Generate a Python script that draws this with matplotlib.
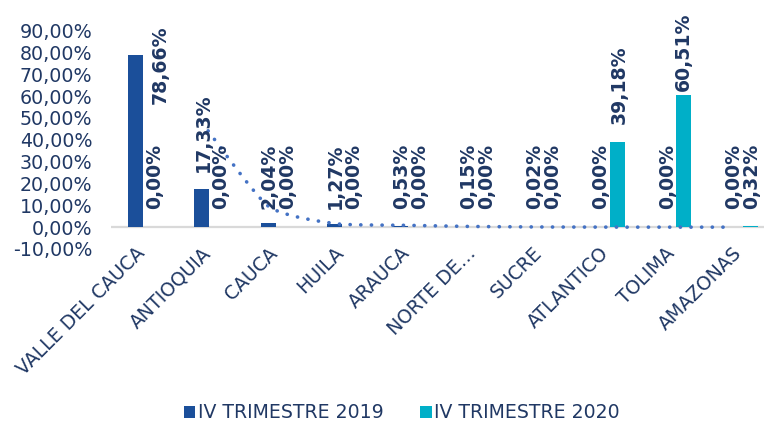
import numpy as np
import pandas as pd
import matplotlib
matplotlib.use("Agg")
import matplotlib.pyplot as plt
import matplotlib.transforms as mtransforms

# data
departamentos = ["VALLE DEL CAUCA", "ANTIOQUIA", "CAUCA", "HUILA", "ARAUCA",
                 "NORTE DE…", "SUCRE", "ATLANTICO", "TOLIMA", "AMAZONAS"]
trim_2019 = [78.66, 17.33, 2.04, 1.27, 0.53, 0.15, 0.02, 0.00, 0.00, 0.00]
trim_2020 = [0.00, 0.00, 0.00, 0.00, 0.00, 0.00, 0.00, 39.18, 60.51, 0.32]
y_ticks = [-10, 0, 10, 20, 30, 40, 50, 60, 70, 80, 90]

# styles
c19 = "#1B4F9A"
c20 = "#00AFC8"
c_text = "#203864"
c_trend = "#4472C4"

plt.rcParams['font.family'] = ['DejaVu Sans']

fig = plt.figure(figsize=(7.64, 4.24), dpi=100)
ax = fig.add_axes([111.3 / 764, (424 - 249) / 424, 663 / 764, (249 - 30.5) / 424])

x = np.arange(len(departamentos))
w = 0.226
off = 0.136
ax.bar(x - off, trim_2019, width=w, color=c19, zorder=2, label="IV TRIMESTRE 2019")
ax.bar(x + off, trim_2020, width=w, color=c20, zorder=2, label="IV TRIMESTRE 2020")

# zero line
ax.axhline(0, color="#D9D9D9", lw=1.6, zorder=1)

# 2-period moving average trendline of 2019 series (smoothed like Excel)
ma = pd.Series(trim_2019).rolling(2).mean().to_numpy()
tx = x[1:] - off
ty = ma[1:]


def catmull_rom(px, py, n=20):
    px = np.concatenate([[px[0]], px, [px[-1]]])
    py = np.concatenate([[py[0]], py, [py[-1]]])
    xs, ys = [], []
    t = np.linspace(0, 1, n, endpoint=False)
    for i in range(1, len(px) - 2):
        for arr, out in ((px, xs), (py, ys)):
            p0, p1, p2, p3 = arr[i - 1], arr[i], arr[i + 1], arr[i + 2]
            m1 = (p2 - p0) / 2 * 0.6
            m2 = (p3 - p1) / 2 * 0.6
            h00 = 2 * t**3 - 3 * t**2 + 1
            h10 = t**3 - 2 * t**2 + t
            h01 = -2 * t**3 + 3 * t**2
            h11 = t**3 - t**2
            out.extend(h00 * p1 + h10 * m1 + h01 * p2 + h11 * m2)
    xs.append(px[-2])
    ys.append(py[-2])
    return np.array(xs), np.array(ys)


sx, sy = catmull_rom(tx.astype(float), ty)
ax.plot(sx, sy, color=c_trend, lw=2.6, linestyle=(0, (0.05, 2.9)),
        dash_capstyle='round', zorder=4)

# data labels
def fmt(v):
    return f"{v:.2f}%".replace('.', ',')

# manual nudges (x offset in categories, label bottom in %) like the original
nudges_19 = {0: (0.37, 56.2)}
nudges_20 = {8: (0.0, 62.1)}

for i, (v19, v20) in enumerate(zip(trim_2019, trim_2020)):
    for v, xc, nud in ((v19, i - off, nudges_19), (v20, i + off, nudges_20)):
        dx, yb = 0.02, (8.2 if v < 10 else v + 7.8)
        if i in nud:
            dx, yb = nud[i]
        ax.text(xc + dx, yb, fmt(v), rotation=90, ha='center', va='bottom',
                fontsize=13.6, fontweight='bold', color=c_text, zorder=5)

ax.set_ylim(-10, 90)
ax.set_xlim(-0.5, 9.5)
ax.set_yticks(y_ticks)
ax.set_yticklabels([f"{t},00%" for t in y_ticks], fontsize=13.7, color=c_text)
ax.tick_params(axis='y', length=0, pad=13.7)

ax.set_xticks(x)
ax.set_xticklabels(departamentos, rotation=45, ha='right', va='top',
                   fontsize=13.6, color=c_text)
ax.tick_params(axis='x', length=0, pad=-4)
shift = mtransforms.ScaledTranslation(4 / 100, 0, fig.dpi_scale_trans)
for lbl in ax.get_xticklabels():
    lbl.set_transform(lbl.get_transform() + shift)

for s in ax.spines.values():
    s.set_visible(False)

leg = fig.legend(loc='center', bbox_to_anchor=(0.526, 0.026), ncol=2,
                 frameon=False, fontsize=13.6, handlelength=0.62, handleheight=0.62,
                 handletextpad=0.15, columnspacing=1.9, borderpad=0)
for t in leg.get_texts():
    t.set_color(c_text)

fig.savefig("out.png", dpi=100)
